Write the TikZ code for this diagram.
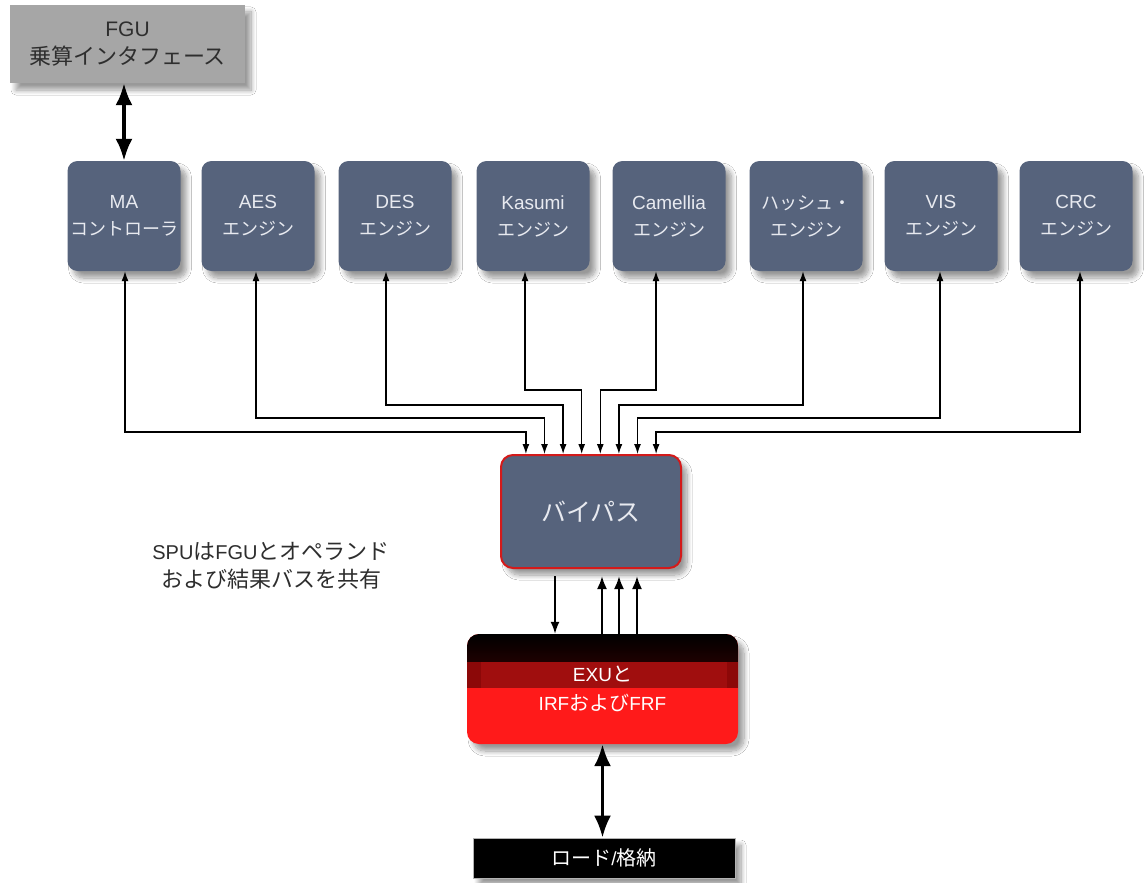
\documentclass[tikz,border=0pt]{standalone}
\usepackage{fontspec}
\setmainfont{Liberation Sans}
\newfontfamily\jp{Noto Sans CJK JP}
\newcommand\jpsz{18}
\newcommand\J[1]{{\jp\fontsize{\jpsz}{\jpsz}\selectfont #1}}
\usetikzlibrary{arrows.meta,shadows.blur}
\definecolor{slate}{HTML}{56637C}
\definecolor{txtlight}{HTML}{E8EAF0}
\definecolor{fgugray}{HTML}{A6A6A6}
\definecolor{txtdark}{HTML}{2E2E2E}
\definecolor{bpred}{HTML}{D41A1A}
\definecolor{exured}{HTML}{FF1A1A}
\definecolor{exuband}{HTML}{A00E0E}
\definecolor{exudark}{HTML}{780303}
\begin{document}
\begin{tikzpicture}[x=1pt,y=-1pt,
  shd/.style={blur shadow={shadow xshift=6pt,shadow yshift=-7pt,shadow opacity=40,shadow blur steps=10,shadow blur radius=5pt}},
  box/.style={shd,fill=slate,rounded corners=10pt,minimum width=113pt,minimum height=110pt,
    text=txtlight,font=\fontsize{19}{27}\selectfont\def\jpsz{18},align=center,inner sep=0pt},
  fgubox/.style={shd,fill=fgugray,minimum width=235pt,minimum height=78pt,text=txtdark,
    font=\fontsize{21}{28}\selectfont\def\jpsz{22},align=center,inner sep=0pt},
  bypass/.style={shd,fill=slate,draw=bpred,line width=2pt,rounded corners=12pt,minimum width=180pt,
    minimum height=113pt,text=txtlight,font=\fontsize{25}{30}\selectfont\def\jpsz{25},inner sep=0pt},
  exubox/.style={shd,fill=exured,rounded corners=12pt,minimum width=271pt,minimum height=110pt,
    text=white,font=\fontsize{19}{29}\selectfont\def\jpsz{20},align=center,inner sep=0pt,
    path picture={
      \shade[sharp corners,top color=black,bottom color=exudark]
        (path picture bounding box.north west) rectangle ([yshift=-28pt]path picture bounding box.north east);
      \fill[sharp corners,exudark!50!exuband]
        ([yshift=-28pt]path picture bounding box.north west) rectangle ([yshift=-54pt]path picture bounding box.north east);
      \fill[sharp corners,exuband]
        ([xshift=14pt,yshift=-28pt]path picture bounding box.north west) rectangle ([xshift=-11pt,yshift=-54pt]path picture bounding box.north east);
    }},
  loadbox/.style={shd,fill=black,draw=gray!60,line width=0.6pt,minimum width=262pt,minimum height=40pt,
    text=white,font=\fontsize{19}{20}\selectfont\def\jpsz{20},inner sep=0pt},
  note/.style={text=txtdark,font=\fontsize{20}{28}\selectfont\def\jpsz{22},align=center,inner sep=0pt},
  conn/.style={line width=1.3pt,{Latex[length=10pt,width=7pt]}-{Latex[length=10pt,width=7pt]}},
  down/.style={line width=1.5pt,-{Latex[length=12pt,width=9pt]}},
  up/.style={line width=2.2pt,-{Latex[length=13pt,width=10pt]}},
  dbl/.style={line width=3.5pt,{Latex[length=22pt,width=17pt]}-{Latex[length=22pt,width=17pt]}}
]
\useasboundingbox (0,0) rectangle (1144,883);
\fill[white] (0,0) rectangle (1144,883);

% boxes
\node[fgubox] (fgu) at (127.5,44) {FGU\\\J{乗算インタフェース}};
\node[box] (ma)   at (124,216)  {MA\\\J{コントローラ}};
\node[box] (aes)  at (258,216)  {AES\\\J{エンジン}};
\node[box] (des)  at (395,216)  {DES\\\J{エンジン}};
\node[box] (kas)  at (533,216)  {Kasumi\\\J{エンジン}};
\node[box] (cam)  at (669,216)  {Camellia\\\J{エンジン}};
\node[box] (hash) at (806,216)  {\J{ハッシュ・}\\\J{エンジン}};
\node[box] (vis)  at (941,216)  {VIS\\\J{エンジン}};
\node[box] (crc)  at (1076,216) {CRC\\\J{エンジン}};

\node[bypass] (bp) at (591,511.5) {\J{バイパス}};
\node[exubox] (exu) at (602.5,689) {EXU\J{と}\\IRF\J{および}FRF};
\node[loadbox] (load) at (604,858) {\J{ロード}/\J{格納}};
\node[note] (txt) at (271,566) {SPU\J{は}FGU\J{とオペランド}\\\J{および結果バスを共有}};

% entry points on bypass
\coordinate (e1) at ([xshift=-65.1pt]bp.north);
\coordinate (e2) at ([xshift=-46.5pt]bp.north);
\coordinate (e3) at ([xshift=-27.9pt]bp.north);
\coordinate (e4) at ([xshift=-9.3pt]bp.north);
\coordinate (e5) at ([xshift=9.3pt]bp.north);
\coordinate (e6) at ([xshift=27.9pt]bp.north);
\coordinate (e7) at ([xshift=46.5pt]bp.north);
\coordinate (e8) at ([xshift=65.1pt]bp.north);

% connectors engines <-> bypass
\draw[conn] ([xshift=1pt]ma.south) -- ([xshift=1pt]ma.south |- 0,432) -| (e1);
\draw[conn] ([xshift=-2pt]aes.south) -- ([xshift=-2pt]aes.south |- 0,418) -| (e2);
\draw[conn] ([xshift=-9pt]des.south) -- ([xshift=-9pt]des.south |- 0,405) -| (e3);
\draw[conn] ([xshift=-8pt]kas.south) -- ([xshift=-8pt]kas.south |- 0,390) -| (e4);
\draw[conn] ([xshift=-13pt]cam.south) -- ([xshift=-13pt]cam.south |- 0,390) -| (e5);
\draw[conn] ([xshift=-3pt]hash.south) -- ([xshift=-3pt]hash.south |- 0,405) -| (e6);
\draw[conn] ([xshift=-1pt]vis.south) -- ([xshift=-1pt]vis.south |- 0,418) -| (e7);
\draw[conn] ([xshift=4pt]crc.south) -- ([xshift=4pt]crc.south |- 0,432) -| (e8);

% bypass <-> EXU
\draw[down] ([xshift=-36pt,yshift=-7pt]bp.south) -- ([xshift=-36pt]bp.south |- exu.north);
\draw[up] ([xshift=11pt]bp.south |- exu.north) -- ([xshift=11pt,yshift=-7pt]bp.south);
\draw[up] ([xshift=28pt]bp.south |- exu.north) -- ([xshift=28pt,yshift=-7pt]bp.south);
\draw[up] ([xshift=46pt]bp.south |- exu.north) -- ([xshift=46pt,yshift=-7pt]bp.south);

% double arrows
\draw[dbl] (ma.north |- fgu.south) -- (ma.north);
\draw[dbl] (exu.south) -- (load.north -| exu.south);
\end{tikzpicture}
\end{document}
